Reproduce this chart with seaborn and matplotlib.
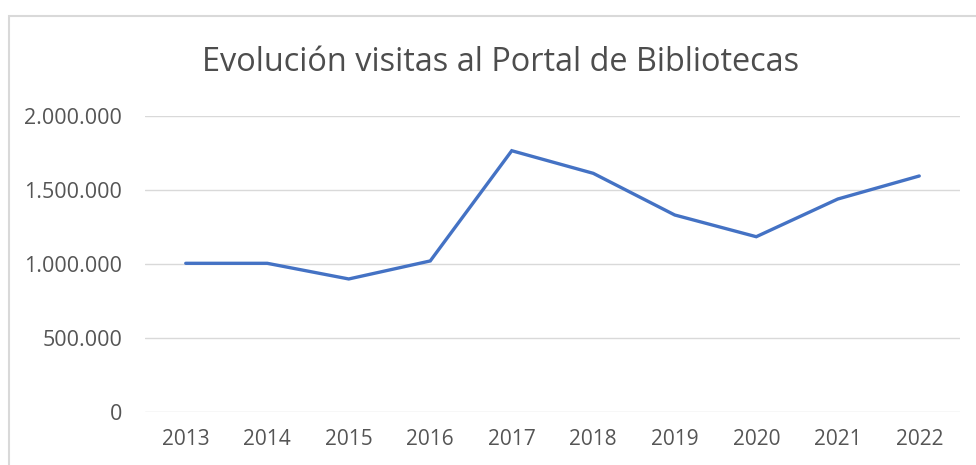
import matplotlib
matplotlib.use("Agg")
import matplotlib.pyplot as plt
import matplotlib.ticker as mticker
from matplotlib.patches import Rectangle
import seaborn as sns
import pandas as pd

years = ["2013", "2014", "2015", "2016", "2017", "2018", "2019", "2020", "2021", "2022"]
visits = [1003000, 1003000, 897000, 1019000, 1765000, 1612000, 1330000, 1183000, 1438000, 1594000]
yticks = [0, 500000, 1000000, 1500000, 2000000]
title = "Evolución visitas al Portal de Bibliotecas"

df = pd.DataFrame({"year": years, "visits": visits})

sns.set_theme(style="white")
plt.rcParams['font.family'] = ['Open Sans', 'DejaVu Sans']

W, H = 976, 465
fig = plt.figure(figsize=(W / 100, H / 100), dpi=100)
ax = fig.add_axes([145 / W, (H - 411.5) / H, (960 - 145) / W, (411.5 - 116) / H])

sns.lineplot(data=df, x="year", y="visits", ax=ax, color="#4472C4", linewidth=2.4,
             sort=False, solid_capstyle="round", solid_joinstyle="miter")

ax.set_xlim(-0.5, len(years) - 0.5)
ax.set_ylim(0, 2000000)
ax.set_yticks(yticks)
ax.yaxis.set_major_formatter(mticker.FuncFormatter(lambda v, p: f"{int(v):,}".replace(",", ".")))
ax.grid(axis="y", color="#d9d9d9", linewidth=1)
ax.set_axisbelow(True)
for s in ax.spines.values():
    s.set_visible(False)
ax.tick_params(axis="both", length=0, labelcolor="#555555")
ax.tick_params(axis="y", pad=16.5, labelsize=15.5)
ax.tick_params(axis="x", pad=12.5, labelsize=15)
ax.set_xlabel("")
ax.set_ylabel("")

fig.text(501 / W, (H - 71) / H, title, ha="center", va="baseline", fontsize=23.4, color="#4d4d4d")

fig.patches.append(Rectangle((9 / W, -0.1), 1.2, (H - 16) / H + 0.1, transform=fig.transFigure,
                             fill=False, edgecolor="#d9d9d9", linewidth=1.5))

fig.savefig("out.png", dpi=100, facecolor="white")
